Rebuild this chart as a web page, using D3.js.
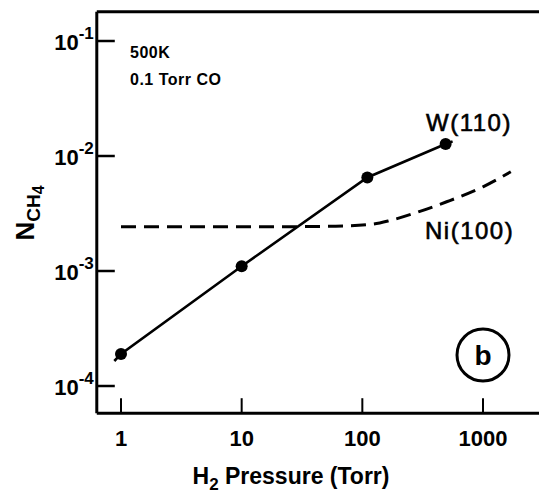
<!DOCTYPE html>
<html>
<head>
<meta charset="utf-8">
<style>
  body { margin: 0; background: #fff; }
  svg { display: block; font-family: 'Liberation Sans', Arial, sans-serif; }
</style>
</head>
<body>
<svg width="539" height="496"></svg>
<script src="https://d3js.org/d3.v7.min.js"></script>
<script>
// data
const wPressure = [1, 10, 110, 490];
const wYield = [1.9e-4, 1.1e-3, 6.5e-3, 1.27e-2];
const niPressure = [1, 10, 60, 120, 170, 300, 500, 1000, 1700];
const niYield = [2.42e-3, 2.42e-3, 2.45e-3, 2.55e-3, 2.75e-3, 3.3e-3, 4.0e-3, 5.4e-3, 7.3e-3];
const xTicks = [1, 10, 100, 1000];
const yTicks = [1e-4, 1e-3, 1e-2, 1e-1];
const yTickExp = ["-4", "-3", "-2", "-1"];

const svg = d3.select("svg");

const x = d3.scaleLog().domain([1, 1000]).range([121, 483]);
const y = d3.scaleLog().domain([1e-4, 1e-1]).range([386, 41]);

// plot frame (runs off the right edge like the scan)
const fLeft = x(0.63), fRight = x(5000), fTop = y(0.18), fBottom = y(5.8e-5);
const frame = svg.append("g").attr("stroke", "#000").attr("stroke-width", 3).attr("fill", "none");
frame.append("line").attr("x1", fLeft).attr("x2", fLeft).attr("y1", fTop).attr("y2", fBottom);
frame.append("line").attr("x1", fLeft).attr("x2", fRight).attr("y1", fTop).attr("y2", fTop);
frame.append("line").attr("x1", fLeft).attr("x2", fRight).attr("y1", fBottom).attr("y2", fBottom);

// y ticks
svg.append("g").selectAll("line").data(yTicks).join("line")
  .attr("x1", fLeft).attr("x2", fLeft + 18)
  .attr("y1", d => y(d)).attr("y2", d => y(d))
  .attr("stroke", "#000").attr("stroke-width", 2.5);

const yl = svg.append("g").selectAll("text").data(yTicks).join("text")
  .attr("x", fLeft - 3).attr("y", d => y(d) + 9)
  .attr("text-anchor", "end")
  .attr("font-size", 22).attr("font-weight", "bold");
yl.append("tspan").text("10");
yl.append("tspan").attr("dy", -11).attr("font-size", 17).text((d, i) => yTickExp[i]);

// x ticks
svg.append("g").selectAll("line").data(xTicks).join("line")
  .attr("x1", d => x(d)).attr("x2", d => x(d))
  .attr("y1", fBottom).attr("y2", fBottom - 15)
  .attr("stroke", "#000").attr("stroke-width", 2);

svg.append("g").selectAll("text").data(xTicks).join("text")
  .attr("x", d => x(d)).attr("y", 446)
  .attr("text-anchor", "middle")
  .attr("font-size", 22).attr("font-weight", "bold")
  .text(d => d);

// axis titles
const xt = svg.append("text").attr("x", 291).attr("y", 484)
  .attr("text-anchor", "middle").attr("font-size", 23).attr("font-weight", "bold");
xt.append("tspan").text("H");
xt.append("tspan").attr("dy", 6).attr("font-size", 17).text("2");
xt.append("tspan").attr("dy", -6).text(" Pressure (Torr)");

const yt = svg.append("text").attr("transform", "translate(34,213) rotate(-90)")
  .attr("text-anchor", "middle").attr("font-size", 26).attr("font-weight", "bold");
yt.append("tspan").text("N");
yt.append("tspan").attr("dy", 6).attr("font-size", 19).text("CH");
yt.append("tspan").attr("dy", 4).attr("font-size", 16).text("4");

// conditions
svg.append("text").attr("x", 130).attr("y", 58)
  .attr("font-size", 16).attr("font-weight", "bold").attr("letter-spacing", 0.5).text("500K");
svg.append("text").attr("x", 130).attr("y", 85)
  .attr("font-size", 16).attr("font-weight", "bold").attr("letter-spacing", 0.5).text("0.1 Torr CO");

// W(110) solid line with points
const wData = wPressure.map((p, i) => [p, wYield[i]]);
const line = d3.line().x(d => x(d[0])).y(d => y(d[1]));
const wExt = [[0.88, 1.65e-4], ...wData, [560, 1.34e-2]];
svg.append("path").datum(wExt).attr("d", line)
  .attr("fill", "none").attr("stroke", "#000").attr("stroke-width", 2.6);
svg.append("g").selectAll("circle").data(wData).join("circle")
  .attr("cx", d => x(d[0])).attr("cy", d => y(d[1])).attr("r", 6)
  .attr("fill", "#000");

// Ni(100) dashed curve
const niData = niPressure.map((p, i) => [p, niYield[i]]);
svg.append("path").datum(niData)
  .attr("d", line.curve(d3.curveMonotoneX))
  .attr("fill", "none").attr("stroke", "#000").attr("stroke-width", 3)
  .attr("stroke-dasharray", "15,8");

// curve labels
svg.append("text").attr("x", 426).attr("y", 131)
  .attr("font-size", 24).attr("letter-spacing", 1.5)
  .attr("stroke", "#000").attr("stroke-width", 0.6).text("W(110)");
svg.append("text").attr("x", 425).attr("y", 239)
  .attr("font-size", 24).attr("letter-spacing", 1.5)
  .attr("stroke", "#000").attr("stroke-width", 0.6).text("Ni(100)");

// panel marker
svg.append("circle").attr("cx", 483).attr("cy", 355).attr("r", 26)
  .attr("fill", "none").attr("stroke", "#000").attr("stroke-width", 3);
svg.append("text").attr("x", 483).attr("y", 365)
  .attr("text-anchor", "middle").attr("font-size", 28).attr("font-weight", "bold").text("b");
</script>
</body>
</html>
